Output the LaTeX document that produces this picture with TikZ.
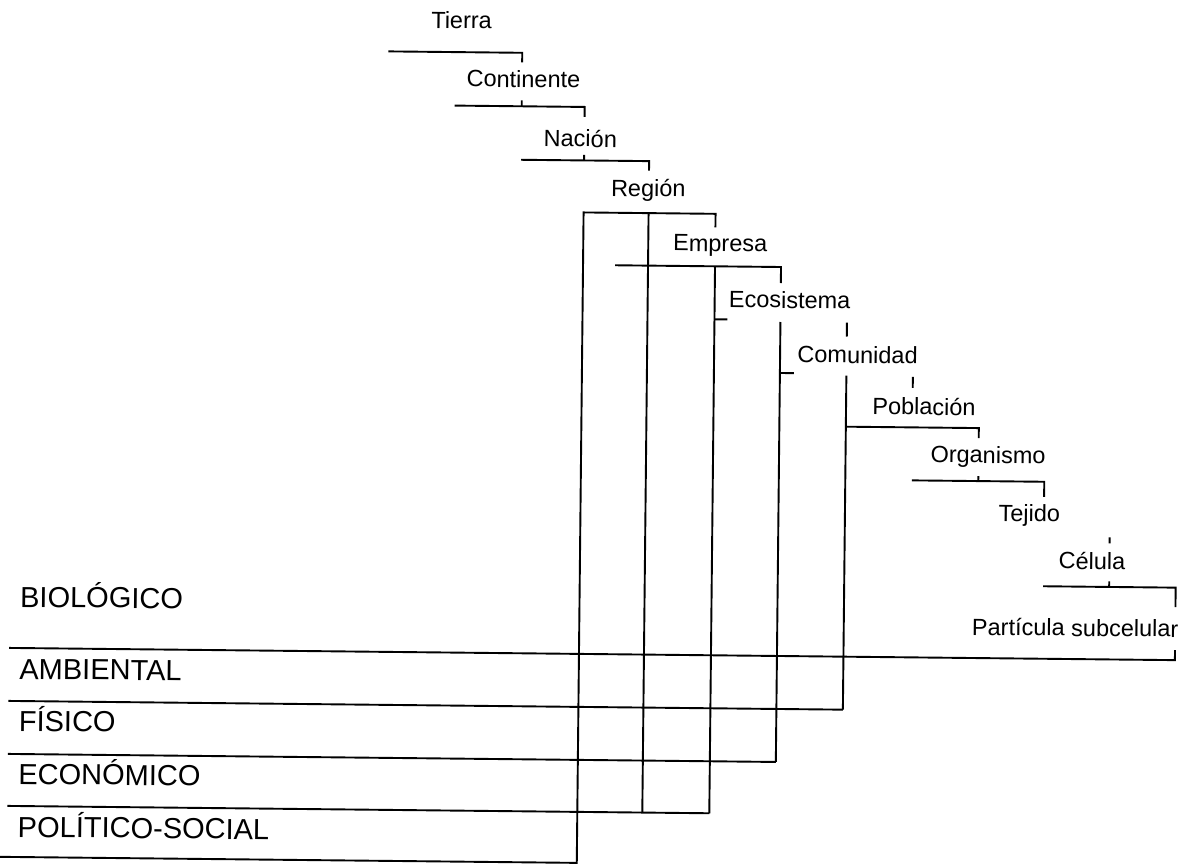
\documentclass[tikz,border=0pt]{standalone}
\usepackage{fontspec}
\setmainfont{Liberation Sans}
% column positions of the stems and ticks
\def\colA{382}  \def\colAA{449} \def\colB{516}  \def\colC{579}
\def\colCC{611} \def\colD{644}  \def\colE{711}  \def\colF{777}
\def\colG{843.5} \def\colH{910} \def\colI{976.5} \def\colJ{1042.5}
\def\colK{1108.5} \def\colL{1175} \def\colZ{9}
% row positions of the horizontal rules
\def\rowA{53.5} \def\rowB{107} \def\rowC{160.5} \def\rowD{212.5}
\def\rowE{265}  \def\rowPob{424} \def\rowOrg{477} \def\rowCel{581.5}
\def\rowAmb{654} \def\rowFis{707} \def\rowEco{760} \def\rowPol{812}
\def\rowBot{863}
\begin{document}
\begin{tikzpicture}[x=1pt,y=-1pt,
  rule/.style={line width=1.9pt},
  level/.style={inner sep=0pt,anchor=base,transform shape,
    font=\fontsize{23.5}{28}\selectfont},
  field/.style={inner sep=0pt,anchor=base west,transform shape,
    font=\fontsize{29}{34}\selectfont}]
\useasboundingbox[fill=white] (0,0) rectangle (1194,863);
\begin{scope}[rotate around={-0.6:(590,650)}]
  % levels of organisation
  \node[level] (tierra)     at (455,30)     {Tierra};
  \node[level] (continente) at (517.5,88)   {Continente};
  \node[level] (nacion)     at (575,147)    {Nación};
  \node[level] (region)     at (643.5,196)  {Región};
  \node[level] (empresa)    at (716,250)    {Empresa};
  \node[level] (ecosistema) at (786,306)    {Ecosistema};
  \node[level] (comunidad)  at (854.5,360.5){Comunidad};
  \node[level] (poblacion)  at (921.5,411.5){Población};
  \node[level] (organismo)  at (986,459)    {Organismo};
  \node[level] (tejido)     at (1028,517)   {Tejido};
  \node[level] (celula)     at (1091,564)   {Célula};
  \node[level] (particula)  at (1075,631)   {Partícula subcelular};
  % fields of study
  \node[field] (biologico)  at (19.5,613)   {BIOLÓGICO};
  \node[field] (ambiental)  at (19.5,685)   {AMBIENTAL};
  \node[field] (fisico)     at (19.5,737)   {FÍSICO};
  \node[field] (economico)  at (19.5,790)   {ECONÓMICO};
  \node[field] (politico)   at (19.5,843)   {POLÍTICO-SOCIAL};

  % Tierra -> Continente
  \draw[rule] (\colA,\rowA) -- (\colB,\rowA) -- (\colB,63);
  % Continente -> Nación
  \draw[rule] (\colB,101) -- (\colB,\rowB);
  \draw[rule] (\colAA,\rowB) -- (\colC,\rowB) -- (\colC,117);
  % Nación -> Región
  \draw[rule] (\colC,155) -- (\colC,\rowC);
  \draw[rule] (\colB,\rowC) -- (\colD,\rowC) -- (\colD,170);
  % Región bracket and its long stems
  \draw[rule] (\colC,875) -- (\colC,\rowD) -- (\colE,\rowD) -- (\colE,226);
  \draw[rule] (\colD,\rowD) -- (\colD,\rowPol);
  % Empresa
  \draw[rule] (\colCC,\rowE) -- (\colF,\rowE) -- (\colF,281);
  \draw[rule] (\colE,\rowE) -- (\colE,\rowPol);
  \draw[rule] (\colE,318) -- ++(13,0);
  % Ecosistema
  \draw[rule] (\colF,320) -- (\colF,\rowEco);
  \draw[rule] (\colF,371) -- ++(14,0);
  \draw[rule] (\colG,320) -- (\colG,334);
  % Comunidad
  \draw[rule] (\colG,373) -- (\colG,\rowFis);
  \draw[rule] (\colH,373.5) -- (\colH,384.5);
  % Población
  \draw[rule] (\colG,\rowPob) -- (\colI,\rowPob) -- (\colI,434);
  % Organismo
  \draw[rule] (\colI,472) -- (\colI,\rowOrg);
  \draw[rule] (\colH,\rowOrg) -- (\colJ,\rowOrg) -- (\colJ,492);
  % Tejido -> Célula
  \draw[rule] (\colK,532) -- (\colK,538);
  \draw[rule] (\colK,576) -- (\colK,\rowCel);
  \draw[rule] (\colJ,\rowCel) -- (\colL,\rowCel) -- (\colL,601);
  % rules separating the fields
  \draw[rule] (\colL,644) -- (\colL,\rowAmb) -- (\colZ,\rowAmb);
  \draw[rule] (\colZ,\rowFis) -- (\colG,\rowFis);
  \draw[rule] (\colZ,\rowEco) -- (\colF,\rowEco);
  \draw[rule] (\colZ,\rowPol) -- (\colE,\rowPol);
  \draw[rule] (0,\rowBot) -- (\colC,\rowBot);
\end{scope}
\end{tikzpicture}
\end{document}
